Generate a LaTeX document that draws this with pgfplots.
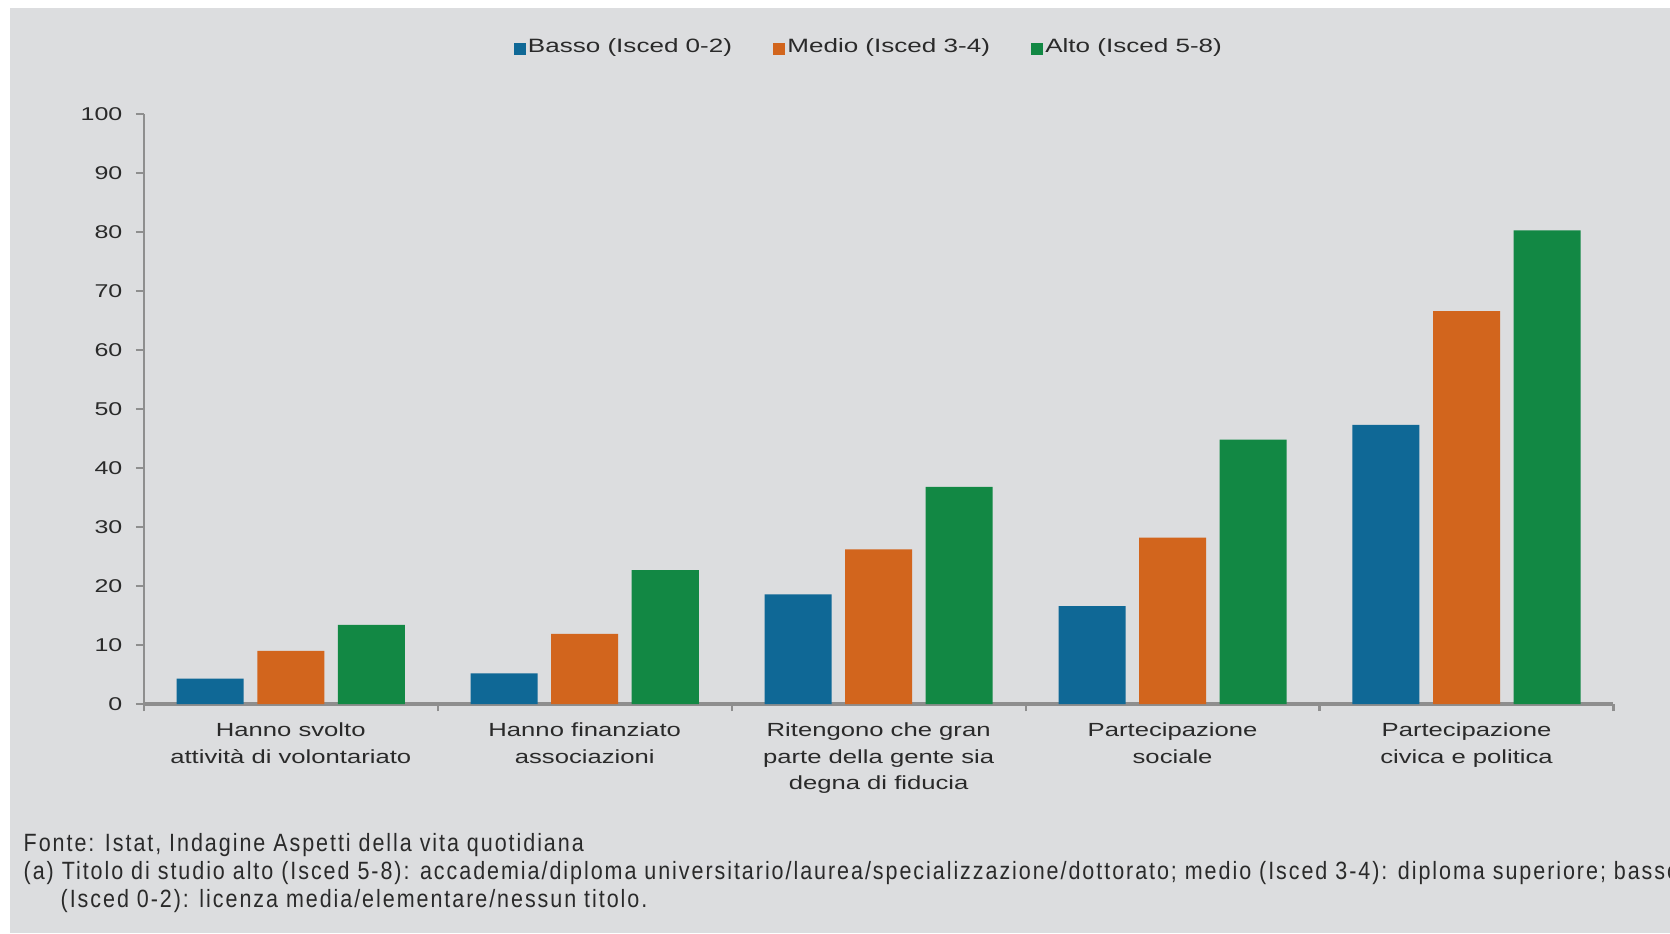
\documentclass[border=0pt]{standalone}
\usepackage{pgfplots}
\pgfplotsset{compat=1.18}
\usepackage{fontspec}
\setmainfont{Liberation Sans}
\newfontfamily\chartfont{Liberation Sans}[FakeStretch=1.35]
\newfontfamily\notefont{Liberation Sans}[FakeStretch=0.86,LetterSpace=7.8]
\definecolor{cblue}{HTML}{0F6896}
\definecolor{corange}{HTML}{D2651D}
\definecolor{cgreen}{HTML}{128844}
\definecolor{bgc}{HTML}{DCDDDF}
\definecolor{axgray}{HTML}{8E8E8E}
\definecolor{txt}{HTML}{2A2A2A}
\pgfplotsset{sq legend/.style={legend image code/.code={\fill[##1,draw=none] (0mm,-0.6mm) rectangle (1.2mm,0.6mm);}}}
\begin{document}
\begin{tikzpicture}[x=0.1mm,y=0.1mm]
\useasboundingbox (0,0) rectangle (1670,933);
\clip (0,0) rectangle (1670,933);
\fill[white] (0,0) rectangle (1670,933);
\fill[bgc] (10,0) rectangle (1670,925);
\begin{axis}[
  at={(14.38mm,22.9mm)}, anchor=south west,
  scale only axis, width=146.97mm, height=59mm,
  xmin=-0.5, xmax=4.5, ymin=0, ymax=100,
  axis x line=bottom, axis y line=left,
  axis line style={-, draw=axgray},
  x axis line style={line width=0.95pt},
  y axis line style={line width=0.7pt},
  tick align=outside,
  xtick={0,1,2,3,4},
  xticklabels={{Hanno svolto\\attività di volontariato},{Hanno finanziato\\associazioni},{Ritengono che gran\\parte della gente sia\\degna di fiducia},{Partecipazione\\sociale},{Partecipazione\\civica e politica}},
  major x tick style={draw=none},
  minor xtick={-0.5,0.5,1.5,2.5,3.5,4.5},
  minor x tick style={draw=axgray, line width=0.6pt},
  minor tick length=0.7mm,
  ytick={0,10,...,100},
  major tick length=0.8mm,
  ytick style={draw=axgray, line width=0.6pt},
  /pgf/number format/assume math mode=true,
  yticklabel style={font=\chartfont\fontsize{1.85mm}{2mm}\selectfont, text=txt, xshift=-0.1mm},
  xticklabel style={font=\chartfont\fontsize{1.9mm}{2.66mm}\selectfont, text=txt, align=center, yshift=0.15mm},
  ybar, bar width=0.228,
  legend style={at={(0.4934,1.111)}, anchor=center, legend columns=3, draw=none, fill=none,
    font=\chartfont\fontsize{1.93mm}{2.3mm}\selectfont, text=txt,
    nodes={inner sep=0.6pt},
    /tikz/every even column/.append style={column sep=3.9mm}},
  clip=false,
]
\addplot[fill=cblue, draw=none, bar shift=-0.274, sq legend] coordinates {(0,4.3) (1,5.2) (2,18.6) (3,16.6) (4,47.3)};
\addplot[fill=corange, draw=none, bar shift=0, sq legend] coordinates {(0,9.0) (1,11.9) (2,26.2) (3,28.2) (4,66.6)};
\addplot[fill=cgreen, draw=none, bar shift=0.274, sq legend] coordinates {(0,13.4) (1,22.7) (2,36.8) (3,44.8) (4,80.3)};
\legend{Basso (Isced 0-2), Medio (Isced 3-4), Alto (Isced 5-8)}
\end{axis}
\begin{scope}[font=\notefont\fontsize{2.5mm}{2.77mm}\selectfont, text=txt]
\node[anchor=base west, inner sep=0] at (23,81.5) {Fonte: Istat, Indagine Aspetti della vita quotidiana};
\node[anchor=base west, inner sep=0] at (23,54) {(a) Titolo di studio alto (Isced 5-8): accademia/diploma universitario/laurea/specializzazione/dottorato; medio (Isced 3-4): diploma superiore; basso};
\node[anchor=base west, inner sep=0] at (60,26) {(Isced 0-2): licenza media/elementare/nessun titolo.};
\end{scope}
\end{tikzpicture}
\end{document}
